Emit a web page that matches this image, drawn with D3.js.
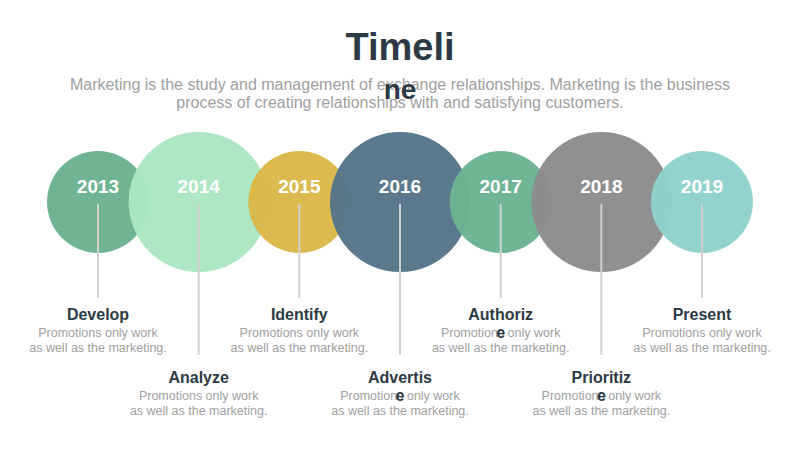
<!DOCTYPE html>
<html><head><meta charset="utf-8">
<script src="https://cdn.jsdelivr.net/npm/d3@7"></script>
<style>body{margin:0;background:#fff}</style></head>
<body><svg id="c" width="800" height="450"></svg>
<script>
const years = ["2013","2014","2015","2016","2017","2018","2019"];
const sizes = [1,2,1,2,1,2,1];
const colors = ["#6bb28f","#abe6c1","#dbb84a","#557589","#6bb393","#8c8c8c","#8fd2cb"];
const headings = [["Develop"],["Analyze"],["Identify"],["Advertis","e"],["Authoriz","e"],["Prioritiz","e"],["Present"]];
const desc = ["Promotions only work","as well as the marketing."];

const svg = d3.select("#c");
const x = d3.scalePoint().domain(years).range([98,702]);
const r = d3.scaleLinear().domain([1,2]).range([51,70]);
const font = "Helvetica, Arial, 'Liberation Sans', sans-serif";

svg.append("text").attr("x",400).attr("y",60).attr("text-anchor","middle")
  .attr("font-family",font).attr("font-weight","900").attr("font-size",38).attr("fill","#2d3a45").text("Timeli");
svg.append("text").attr("x",400).attr("y",90).attr("text-anchor","middle")
  .attr("font-family",font).attr("font-size",16).attr("fill","#a0a0a0")
  .text("Marketing is the study and management of exchange relationships. Marketing is the business");
svg.append("text").attr("x",400).attr("y",108).attr("text-anchor","middle")
  .attr("font-family",font).attr("font-size",16).attr("fill","#a0a0a0")
  .text("process of creating relationships with and satisfying customers.");
svg.append("text").attr("x",400).attr("y",99).attr("text-anchor","middle")
  .attr("font-family",font).attr("font-weight","900").attr("font-size",28).attr("fill","#2d3a45").text("ne");

const g = svg.selectAll("g.item").data(years).join("g");
g.append("circle").attr("cx",d=>x(d)).attr("cy",202).attr("r",(d,i)=>r(sizes[i]))
  .attr("fill",(d,i)=>colors[i]).attr("opacity",0.97);
g.append("text").attr("x",d=>x(d)).attr("y",193).attr("text-anchor","middle")
  .attr("font-family",font).attr("font-weight","bold").attr("font-size",19).attr("fill","#fff").text(d=>d);
g.append("line").attr("x1",d=>x(d)).attr("x2",d=>x(d)).attr("y1",204)
  .attr("y2",(d,i)=>sizes[i]===2?355:298).attr("stroke","#d0d0d0").attr("stroke-width",2);

g.each(function(d,i){
  const el=d3.select(this), big=sizes[i]===2, base=big?383:320, cx=x(d);
  el.append("text").attr("x",cx).attr("y",base).attr("text-anchor","middle")
    .attr("font-family",font).attr("font-weight","900").attr("font-size",16).attr("fill","#2d3a45").text(headings[i][0]);
  desc.forEach((t,k)=>el.append("text").attr("x",cx).attr("y",base+17+k*15).attr("text-anchor","middle")
    .attr("font-family",font).attr("font-size",12.5).attr("fill","#a0a0a0").text(t));
  if(headings[i][1]) el.append("text").attr("x",cx).attr("y",base+18).attr("text-anchor","middle")
    .attr("font-family",font).attr("font-weight","900").attr("font-size",16).attr("fill","#2d3a45").text(headings[i][1]);
});
</script></body></html>
